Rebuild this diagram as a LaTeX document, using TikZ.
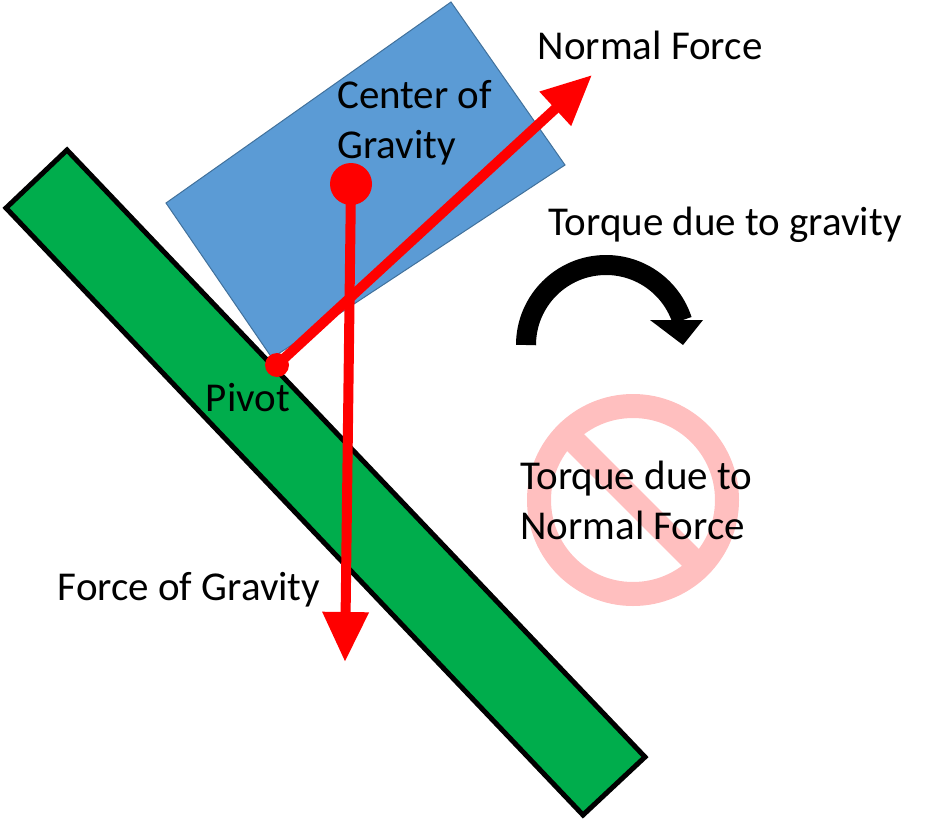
\documentclass[tikz,border=0pt]{standalone}
\usepackage{fontspec}
\setmainfont{Carlito}
\usetikzlibrary{arrows.meta}
\definecolor{barg}{RGB}{0,173,76}
\definecolor{blk}{RGB}{91,155,213}
\definecolor{blkd}{RGB}{65,113,156}
\definecolor{nopink}{RGB}{255,191,191}
\begin{document}
\begin{tikzpicture}[x=1pt,y=-1pt,
  lbl/.style={font=\fontsize{41}{50}\selectfont, inner sep=0pt, align=left},
  force/.style={draw=red, line width=10pt, -{Triangle[length=50pt,width=44pt]}}]
\useasboundingbox (0,0) rectangle (929,822);
\draw[fill=barg, line width=5pt, line join=miter]
  (6,208) -- (67,150) -- (645,757) -- (583,815) -- cycle;
\draw[fill=blk, draw=blkd, line width=1pt]
  (166,203) -- (451,2) -- (565,165) -- (272,358) -- cycle;
\coordinate (piv) at (277,365);
\coordinate (cog) at (351,184);
\coordinate (nf) at (592,75);
\coordinate (fg) at (345,662);
\draw[force] (piv) -- (nf);
\draw[force] (cog) -- (fg);
\fill[red] (cog) circle (21);
\fill[red] (piv) circle (12);
\draw[line width=20pt] (526,345) arc (180:342:80);
\fill (650,320) -- (703,320) -- (683,345) -- cycle;
\draw[nopink, line width=24pt] (633,500) circle (94);
\draw[nopink, line width=24pt] (566,433) -- (700,567);
\node[lbl] (t1) at (650,45) {Normal Force};
\node[lbl, anchor=west] (t2) at (337,123) {Center of\\Gravity};
\node[lbl] (t3) at (725,225) {Torque due to gravity};
\node[lbl] (t4) at (248,398) {Pivot};
\node[lbl] (t5) at (189,590) {Force of Gravity};
\node[lbl, anchor=west] (t6) at (520,500) {Torque due to\\Normal Force};
\end{tikzpicture}
\end{document}
